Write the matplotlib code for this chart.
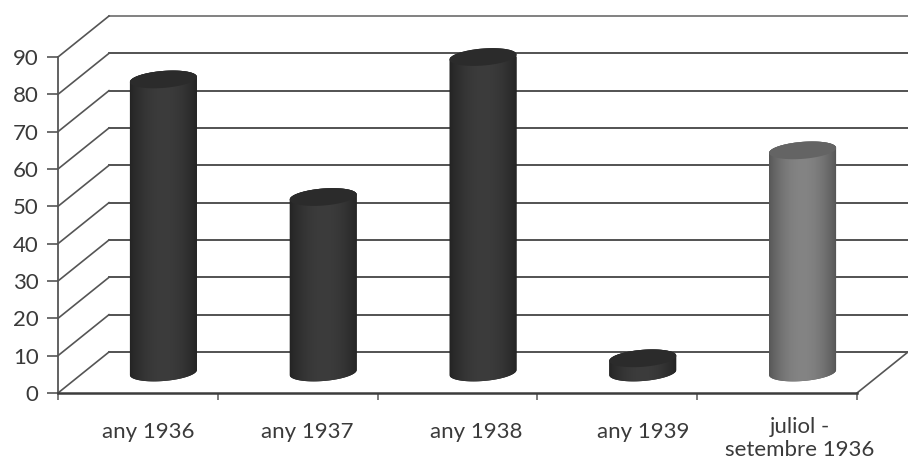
import numpy as np
import matplotlib
matplotlib.use('Agg')
import matplotlib.pyplot as plt
from matplotlib.patches import Polygon
from matplotlib.transforms import Affine2D

categories = ['any 1936', 'any 1937', 'any 1938', 'any 1939', 'juliol -\nsetembre 1936']
values = [78.5, 47, 84.5, 3.8, 59.5]
y_ticks = [0, 10, 20, 30, 40, 50, 60, 70, 80, 90]

plt.rcParams['font.family'] = ['Lato', 'DejaVu Sans']

W, H = 908, 466
fig = plt.figure(figsize=(W / 100, H / 100), dpi=100)
ax = fig.add_axes([58 / W, (H - 393) / H, 799 / W, 336 / H])
ax.set_xlim(0, 5)
ax.set_ylim(0, 90)

# depth of the fake 3d box, in pixels
DX, DY = 51, 41
back = ax.transData + Affine2D().translate(DX, DY)
mid = ax.transData + Affine2D().translate(DX / 2, DY / 2)
to_x = 5 / 799
to_y = 90 / 336

line_col = '#444444'

# back wall and side wall lines
for v in y_ticks:
    col = '#777777' if v == 90 else line_col
    ax.plot([0, 5], [v, v], transform=back, color=col, lw=1.3, clip_on=False, zorder=1)
    ax.plot([0, DX * to_x], [v, v + DY * to_y], color='#555555', lw=1.2, clip_on=False, zorder=1)
# right edge of the floor
ax.plot([5, 5 + DX * to_x], [0, DY * to_y], color='#555555', lw=1.2, clip_on=False, zorder=1)


def cylinder(i, value, dark, light, top_col):
    cx = i + 0.5
    a = 33.5 * to_x
    b = 8.5 * to_y
    tilt = (5 / 66) * (to_y / to_x)
    t = np.linspace(0, np.pi, 60)
    top_x = cx + a * np.cos(t)
    top_y = value + b * np.sin(t) + tilt * (top_x - cx)
    bot_x = cx + a * np.cos(t + np.pi)
    bot_y = b * np.sin(t + np.pi) + tilt * (bot_x - cx)
    body = Polygon(np.column_stack([np.r_[top_x, bot_x], np.r_[top_y, bot_y]]),
                   closed=True, transform=mid, facecolor=dark, edgecolor='none',
                   zorder=3, clip_on=False)
    ax.add_patch(body)

    # shading across the cylinder
    s = np.linspace(0, 1, 80)
    k = np.sin(s * np.pi) ** 0.8
    c0 = np.array(matplotlib.colors.to_rgb(dark))
    c1 = np.array(matplotlib.colors.to_rgb(light))
    grad = (c0 + (c1 - c0) * k[:, None])[None, :, :]
    im = ax.imshow(grad, extent=(cx - a, cx + a, -b * 2, value + b * 2), aspect='auto',
                   transform=mid, zorder=4, interpolation='bilinear', clip_on=True)
    im.set_clip_path(body)

    # top face
    t2 = np.linspace(0, 2 * np.pi, 120)
    face_x = cx + a * np.cos(t2)
    face_y = value + b * np.sin(t2) + tilt * (face_x - cx)
    ax.add_patch(Polygon(np.column_stack([face_x, face_y]), closed=True, transform=mid,
                         facecolor=top_col, edgecolor='none', zorder=5, clip_on=False))


for i, v in enumerate(values):
    if i == 4:
        cylinder(i, v, '#565656', '#848484', '#646464')
    else:
        cylinder(i, v, '#242424', '#3c3c3c', '#2b2b2b')

ax.set_xlim(0, 5)
ax.set_ylim(0, 90)

# axes
for side in ['top', 'right']:
    ax.spines[side].set_visible(False)
ax.spines['left'].set_color('#555555')
ax.spines['left'].set_linewidth(1.3)
ax.spines['bottom'].set_color('#3c3c3c')
ax.spines['bottom'].set_linewidth(1.8)
for s in ax.spines.values():
    s.set_zorder(6)
ax.patch.set_alpha(0)

ax.set_yticks(y_ticks)
ax.set_yticklabels([str(v) for v in y_ticks], fontsize=16, color='#3a3a3a')
ax.tick_params(axis='y', length=8, width=1.2, color='#555555', pad=6)
ax.set_xticks(range(6))
ax.set_xticklabels([])
ax.tick_params(axis='x', length=5, width=1.2, color='#666666')

# category labels sit a bit right of the slot centre
nudge = [10, 10, 19, 26, 23]
for i, name in enumerate(categories):
    two_lines = '\n' in name
    ax.annotate(name, xy=(i + 0.5, 0), xycoords='data',
                xytext=(nudge[i] * 0.72, -17 if two_lines else -28), textcoords='offset points',
                ha='center', va='top' if two_lines else 'center', fontsize=16,
                color='#3a3a3a', linespacing=1.2, annotation_clip=False)

fig.savefig('out.png', dpi=100)
